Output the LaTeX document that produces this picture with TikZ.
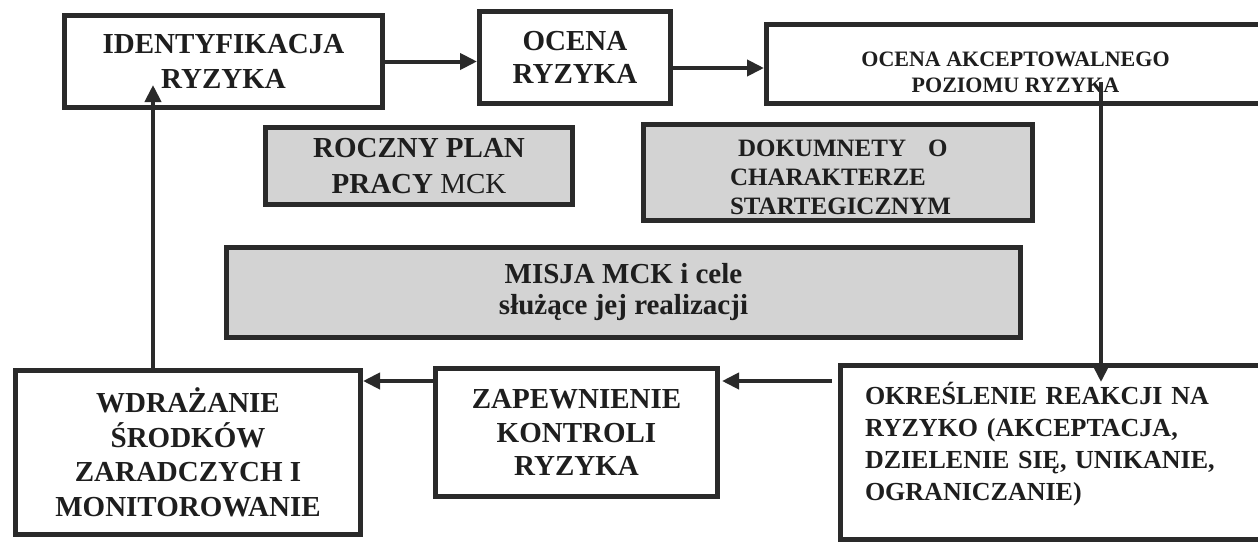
\documentclass[tikz,border=0pt]{standalone}
\usepackage{fontspec}
\setmainfont{Liberation Serif}
\usetikzlibrary{arrows.meta,calc}
\definecolor{ink}{HTML}{2A2A2A}
\definecolor{txt}{HTML}{1E1E1E}
\definecolor{boxgrey}{HTML}{D3D3D3}
\newcommand{\fs}[2]{\fontsize{#1}{#2}\selectfont}
\begin{document}
\begin{tikzpicture}[x=1pt,y=-1pt,
  box/.style={draw=ink, line width=5pt, fill=white, inner sep=0pt, align=center, text=txt},
  greybox/.style={box, fill=boxgrey},
  arr/.style={draw=ink, line width=4pt, -{Triangle[length=17pt,width=16pt]}}]
\useasboundingbox (0,0) rectangle (1258,544);
% top row
\node[box, minimum width=318pt, minimum height=92pt, font={\bfseries\fs{29}{35}}] (b1) at (223.5,61.5)
  {IDENTYFIKACJA\\RYZYKA};
\node[box, minimum width=191pt, minimum height=92pt, font={\bfseries\fs{29}{33}}] (b2) at (575,57.5)
  {OCENA\\RYZYKA};
\node[box, minimum width=498pt, minimum height=79pt, font={\bfseries\fs{22}{26}}] (b3) at (1015.5,64)
  {\rule{0pt}{32pt}OCENA AKCEPTOWALNEGO\\POZIOMU RYZYKA};
% middle grey boxes
\node[greybox, minimum width=307pt, minimum height=77pt, font={\bfseries\fs{29}{36}}] (b4) at (419,166)
  {ROCZNY PLAN\\PRACY {\mdseries MCK}};
\node[greybox, minimum width=389pt, minimum height=96pt, text width=250pt, align=left, font={\bfseries\fs{25}{29}}] (b8) at (838,172.5)
  {\rule{0pt}{26pt}\hspace*{25pt}DOKUMNETY\hspace{22pt}O\\\hspace*{17pt}CHARAKTERZE\\\hspace*{17pt}STARTEGICZNYM};
\node[greybox, minimum width=794pt, minimum height=90pt, font={\bfseries\fs{29}{31}}] (b9) at (623.5,292.5)
  {MISJA MCK i cele\\służące jej realizacji};
% bottom row
\node[box, minimum width=345pt, minimum height=164pt, font={\bfseries\fs{29}{34.5}}] (b5) at (188,452.5)
  {WDRAŻANIE\\ŚRODKÓW\\ZARADCZYCH I\\MONITOROWANIE};
\node[box, minimum width=282pt, minimum height=128pt, font={\bfseries\fs{29}{33.5}}] (b6) at (576.5,432.5)
  {ZAPEWNIENIE\\KONTROLI\\RYZYKA};
\node[box, minimum width=435pt, minimum height=174pt, text width=386pt, align=left, font={\bfseries\fs{26}{32}}] (b7) at (1058,452.5)
  {OKREŚLENIE REAKCJI NA\\RYZYKO (AKCEPTACJA,\\DZIELENIE SIĘ, UNIKANIE,\\OGRANICZANIE)\rule[-22pt]{0pt}{22pt}};
% helper coordinates
\coordinate (dx) at (1101,0);
\coordinate (ux) at (153,0);
\coordinate (ya) at (0,381);
\coordinate (yb) at (0,68);
% connectors
\draw[arr] (b1.east) -- (b2.west |- b1.east);
\draw[arr] (b2.east |- yb) -- (b3.west |- yb);
\draw[arr] ([yshift=24pt]b3.south -| dx) -- ([yshift=-19pt]b7.north -| dx);
\draw[arr] ([xshift=-6pt]b7.west |- ya) -- ([xshift=2pt]b6.east |- ya);
\draw[arr] (b6.west |- ya) -- (b5.east |- ya);
\draw[arr] (b5.north -| ux) -- ([yshift=25pt]b1.south -| ux);
\end{tikzpicture}
\end{document}
